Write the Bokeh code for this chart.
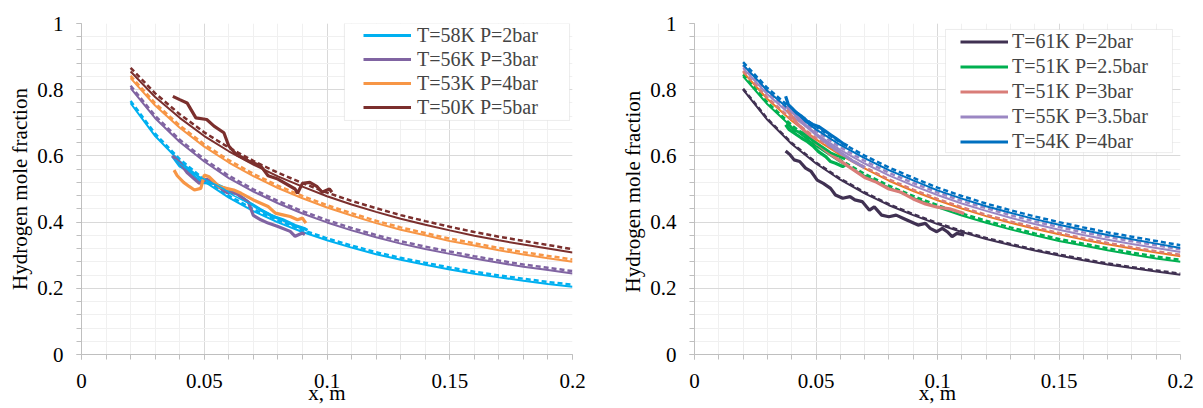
from bokeh.plotting import figure
from bokeh.models import Legend, LegendItem, FixedTicker, Range1d, BoxAnnotation
from bokeh.layouts import row
from bokeh.embed import file_html
from bokeh.resources import INLINE

# ---------------- data ----------------
X_TICKS = [0, 0.05, 0.1, 0.15, 0.2]
X_TICK_LABELS = ["0", "0.05", "0.1", "0.15", "0.2"]
Y_TICKS = [0, 0.2, 0.4, 0.6, 0.8, 1.0]
Y_TICK_LABELS = ["0", "0.2", "0.4", "0.6", "0.8", "1"]

X_MODEL = [0.02, 0.03, 0.04, 0.05, 0.06, 0.07, 0.08, 0.09, 0.10, 0.11,
           0.12, 0.13, 0.14, 0.15, 0.16, 0.17, 0.18, 0.19, 0.20]

# Left panel
L_LABELS = ["T=58K P=2bar", "T=56K P=3bar", "T=53K P=4bar", "T=50K P=5bar"]
L_SOLID = [
    [0.759, 0.660, 0.584, 0.523, 0.474, 0.433, 0.399, 0.370, 0.345, 0.323, 0.303, 0.286, 0.271, 0.257, 0.244, 0.233, 0.223, 0.213, 0.205],
    [0.805, 0.714, 0.642, 0.583, 0.533, 0.492, 0.457, 0.426, 0.399, 0.375, 0.354, 0.335, 0.319, 0.304, 0.290, 0.277, 0.265, 0.255, 0.245],
    [0.835, 0.752, 0.685, 0.628, 0.580, 0.539, 0.503, 0.472, 0.444, 0.420, 0.397, 0.377, 0.360, 0.343, 0.329, 0.315, 0.302, 0.291, 0.280],
    [0.855, 0.778, 0.715, 0.660, 0.614, 0.574, 0.538, 0.507, 0.478, 0.453, 0.431, 0.410, 0.392, 0.375, 0.359, 0.345, 0.332, 0.320, 0.308],
]
L_DASH = [
    [0.766, 0.667, 0.590, 0.529, 0.480, 0.439, 0.405, 0.376, 0.351, 0.329, 0.309, 0.292, 0.277, 0.263, 0.250, 0.239, 0.229, 0.219, 0.211],
    [0.812, 0.721, 0.649, 0.590, 0.540, 0.499, 0.464, 0.433, 0.406, 0.382, 0.361, 0.342, 0.326, 0.311, 0.297, 0.284, 0.272, 0.262, 0.252],
    [0.842, 0.759, 0.692, 0.635, 0.587, 0.546, 0.510, 0.479, 0.451, 0.427, 0.404, 0.384, 0.367, 0.350, 0.336, 0.322, 0.309, 0.298, 0.287],
    [0.866, 0.789, 0.726, 0.671, 0.625, 0.585, 0.549, 0.518, 0.489, 0.464, 0.442, 0.421, 0.403, 0.386, 0.370, 0.356, 0.343, 0.331, 0.318],
]
L_EXP_X = [
    [0.037, 0.040, 0.043, 0.046, 0.049, 0.054, 0.059, 0.063, 0.068, 0.073, 0.077, 0.082, 0.087, 0.091, 0.092],
    [0.037, 0.040, 0.043, 0.046, 0.048, 0.051, 0.054, 0.059, 0.063, 0.068, 0.070, 0.073, 0.076, 0.080, 0.085, 0.087, 0.090, 0.091],
    [0.0377, 0.039, 0.0416, 0.044, 0.046, 0.0486, 0.050, 0.052, 0.054, 0.056, 0.059, 0.062, 0.065, 0.070, 0.073, 0.076, 0.079, 0.082, 0.085, 0.088, 0.090, 0.0914],
    [0.0372, 0.040, 0.043, 0.0466, 0.051, 0.054, 0.058, 0.060, 0.063, 0.068, 0.073, 0.076, 0.080, 0.087, 0.088, 0.090, 0.093, 0.096, 0.098, 0.101, 0.102],
]
L_EXP_Y = [
    [0.60, 0.57, 0.557, 0.537, 0.52, 0.517, 0.50, 0.487, 0.46, 0.437, 0.42, 0.407, 0.39, 0.38, 0.375],
    [0.60, 0.58, 0.55, 0.53, 0.517, 0.53, 0.517, 0.49, 0.487, 0.46, 0.42, 0.407, 0.397, 0.387, 0.372, 0.357, 0.367, 0.362],
    [0.557, 0.54, 0.52, 0.507, 0.497, 0.502, 0.542, 0.537, 0.522, 0.507, 0.502, 0.497, 0.487, 0.467, 0.457, 0.447, 0.427, 0.422, 0.417, 0.407, 0.412, 0.397],
    [0.78, 0.77, 0.76, 0.715, 0.71, 0.69, 0.67, 0.63, 0.605, 0.585, 0.57, 0.54, 0.53, 0.50, 0.487, 0.517, 0.52, 0.507, 0.49, 0.50, 0.49],
]
L_EXP2_X = [0.038, 0.042, 0.046, 0.050, 0.054, 0.058, 0.062, 0.066, 0.070, 0.074, 0.078, 0.082, 0.086, 0.090]
L_EXP2_Y = [0.59, 0.565, 0.545, 0.53, 0.515, 0.50, 0.48, 0.465, 0.45, 0.435, 0.42, 0.405, 0.39, 0.38]

# Right panel
R_LABELS = ["T=61K P=2bar", "T=51K P=2.5bar", "T=51K P=3bar", "T=55K P=3.5bar", "T=54K P=4bar"]
R_SOLID = [
    [0.800, 0.709, 0.636, 0.577, 0.528, 0.487, 0.451, 0.421, 0.394, 0.370, 0.349, 0.331, 0.314, 0.299, 0.285, 0.272, 0.261, 0.251, 0.241],
    [0.840, 0.756, 0.687, 0.630, 0.582, 0.540, 0.504, 0.473, 0.445, 0.420, 0.398, 0.378, 0.360, 0.343, 0.329, 0.315, 0.302, 0.290, 0.280],
    [0.853, 0.772, 0.706, 0.650, 0.603, 0.562, 0.525, 0.494, 0.466, 0.441, 0.418, 0.398, 0.380, 0.363, 0.347, 0.333, 0.320, 0.308, 0.297],
    [0.865, 0.786, 0.721, 0.667, 0.618, 0.577, 0.541, 0.510, 0.482, 0.456, 0.434, 0.413, 0.394, 0.377, 0.361, 0.347, 0.334, 0.322, 0.310],
    [0.875, 0.797, 0.734, 0.680, 0.633, 0.593, 0.557, 0.526, 0.496, 0.471, 0.448, 0.428, 0.409, 0.392, 0.376, 0.361, 0.348, 0.335, 0.322],
]
R_DASH = [
    [0.803, 0.712, 0.639, 0.580, 0.531, 0.490, 0.454, 0.424, 0.397, 0.373, 0.352, 0.334, 0.317, 0.302, 0.288, 0.275, 0.264, 0.254, 0.244],
    [0.846, 0.762, 0.693, 0.636, 0.588, 0.546, 0.510, 0.479, 0.451, 0.426, 0.404, 0.384, 0.366, 0.349, 0.335, 0.321, 0.308, 0.296, 0.286],
    [0.857, 0.776, 0.710, 0.654, 0.607, 0.566, 0.529, 0.498, 0.470, 0.445, 0.422, 0.402, 0.384, 0.367, 0.351, 0.337, 0.324, 0.312, 0.301],
    [0.873, 0.794, 0.729, 0.675, 0.626, 0.585, 0.549, 0.518, 0.490, 0.464, 0.442, 0.421, 0.402, 0.385, 0.369, 0.355, 0.342, 0.330, 0.318],
    [0.883, 0.805, 0.742, 0.688, 0.641, 0.601, 0.565, 0.534, 0.504, 0.479, 0.456, 0.436, 0.417, 0.400, 0.384, 0.369, 0.356, 0.343, 0.330],
]
R_EXP_X = [
    [0.0375, 0.0394, 0.041, 0.0433, 0.0457, 0.048, 0.0505, 0.053, 0.056, 0.058, 0.061, 0.064, 0.066, 0.069, 0.072, 0.074, 0.077, 0.080, 0.083, 0.086, 0.089, 0.092, 0.095, 0.097, 0.0997, 0.102, 0.104, 0.106, 0.108, 0.111],
    [0.0375, 0.039, 0.042, 0.044, 0.0465, 0.049, 0.051, 0.054, 0.056, 0.058, 0.061, 0.062],
    [0.038, 0.042, 0.046, 0.050, 0.055, 0.060, 0.065, 0.070, 0.075, 0.080, 0.085, 0.090, 0.095, 0.100, 0.105, 0.111],
    [0.038, 0.042, 0.046, 0.050, 0.055, 0.060, 0.065, 0.070],
    [0.0375, 0.0386, 0.040, 0.042, 0.044, 0.0465, 0.049, 0.051, 0.054, 0.056, 0.058, 0.061, 0.063],
]
R_EXP_Y = [
    [0.615, 0.603, 0.588, 0.583, 0.563, 0.553, 0.527, 0.517, 0.502, 0.482, 0.472, 0.477, 0.467, 0.462, 0.436, 0.446, 0.421, 0.416, 0.421, 0.411, 0.401, 0.391, 0.396, 0.381, 0.371, 0.381, 0.371, 0.356, 0.366, 0.361],
    [0.694, 0.679, 0.664, 0.654, 0.643, 0.628, 0.613, 0.598, 0.583, 0.578, 0.568, 0.572],
    [0.74, 0.70, 0.67, 0.64, 0.61, 0.585, 0.56, 0.535, 0.52, 0.50, 0.49, 0.47, 0.455, 0.445, 0.44, 0.426],
    [0.75, 0.72, 0.69, 0.665, 0.635, 0.61, 0.585, 0.565],
    [0.78, 0.755, 0.745, 0.73, 0.72, 0.704, 0.694, 0.689, 0.674, 0.664, 0.654, 0.638, 0.63],
]
R_EXP2_X = [0.038, 0.041, 0.044, 0.047, 0.050, 0.053, 0.056, 0.059, 0.062]
R_EXP2_Y = [0.70, 0.675, 0.672, 0.655, 0.64, 0.625, 0.61, 0.60, 0.59]

# ---------------- styling ----------------
FONT = "Liberation Serif"
L_COLORS = ["#00b0f0", "#8064a2", "#f79646", "#7b2f2d"]
R_COLORS = ["#403152", "#00b050", "#d97d78", "#9b87c3", "#0070c0"]
R_SOLID_COLORS = ["#403152", "#00b050", "#ee7a22", "#9b87c3", "#0070c0"]


def make_fig(width, height, bl, br, bt, bb, ylabel, ylab_standoff):
    p = figure(width=width, height=height, x_range=Range1d(0, 0.2), y_range=Range1d(0, 1),
               output_backend="svg", toolbar_location=None, title=None,
               min_border_left=bl, min_border_right=br, min_border_top=bt, min_border_bottom=bb)
    p.outline_line_color = None
    p.xaxis.ticker = FixedTicker(ticks=X_TICKS, minor_ticks=[i * 0.01 for i in range(21)])
    p.yaxis.ticker = FixedTicker(ticks=Y_TICKS, minor_ticks=[i * 0.04 for i in range(26)])
    p.xaxis.major_label_overrides = dict(zip(X_TICKS, X_TICK_LABELS))
    p.yaxis.major_label_overrides = dict(zip(Y_TICKS, Y_TICK_LABELS))
    for ax in (p.xaxis, p.yaxis):
        ax.axis_line_color = "#bfbfbf"
        ax.major_tick_line_color = "#bfbfbf"
        ax.minor_tick_line_color = "#bfbfbf"
        ax.major_tick_in = 0
        ax.major_tick_out = 5
        ax.minor_tick_in = 0
        ax.minor_tick_out = 5
        ax.major_label_text_font = FONT
        ax.major_label_text_font_size = "21px"
        ax.major_label_text_color = "black"
        ax.axis_label_text_font = FONT
        ax.axis_label_text_font_size = "21px"
        ax.axis_label_text_font_style = "normal"
        ax.axis_label_text_color = "black"
    p.yaxis.major_label_standoff = 13
    p.xaxis.major_label_standoff = 14
    p.xaxis.axis_label = "x, m"
    p.xaxis.axis_label_standoff = -10
    p.yaxis.axis_label = ylabel
    p.yaxis.axis_label_standoff = ylab_standoff
    for g in (p.xgrid, p.ygrid):
        g.grid_line_color = "#d9d9d9"
        g.minor_grid_line_color = "#f0f0f0"
    return p


def draw(p, solids, dashes, exps_x, exps_y, colors, solid_colors):
    exp_rs = []
    for s, d, c, sc in zip(solids, dashes, colors, solid_colors):
        p.line(X_MODEL, s, line_color=sc, line_width=2)
        p.line(X_MODEL, d, line_color=c, line_width=2.5, line_dash="5 3")
    for ex, ey, c in zip(exps_x, exps_y, colors):
        exp_rs.append(p.line(ex, ey, line_color=c, line_width=3.2))
    return exp_rs


# Left figure
pl = make_fig(600, 408, 81, 28, 23, 54, "Hydrogen mole fraction", 2)
l_rs = draw(pl, L_SOLID, L_DASH, L_EXP_X, L_EXP_Y, L_COLORS, L_COLORS)
pl.line(L_EXP2_X, L_EXP2_Y, line_color=L_COLORS[0], line_width=1.5)
pl.add_layout(BoxAnnotation(left=0.1071, right=0.1988, top=1.0, bottom=0.707,
                            fill_color="white", fill_alpha=1, line_color="#bfbfbf", line_width=1))
leg_l = Legend(items=[LegendItem(label=lab, renderers=[r]) for lab, r in zip(L_LABELS, l_rs)],
               location=(282, 235), padding=0, spacing=0, margin=0, label_height=24, glyph_height=24,
               glyph_width=48, label_standoff=6, border_line_color=None, background_fill_alpha=0,
               label_text_font=FONT, label_text_font_size="20px")
pl.add_layout(leg_l)

# Right figure
pr = make_fig(600, 408, 94, 20, 23, 54, "Hydrogen  mole fraction", 2)
r_rs = draw(pr, R_SOLID, R_DASH, R_EXP_X, R_EXP_Y, R_COLORS, R_SOLID_COLORS)
pr.line(R_EXP2_X, R_EXP2_Y, line_color=R_COLORS[1], line_width=2.5)
pr.add_layout(BoxAnnotation(left=0.1033, right=0.1967, top=0.982, bottom=0.610,
                            fill_color="white", fill_alpha=1, line_color="#bfbfbf", line_width=1))
leg_r = Legend(items=[LegendItem(label=lab, renderers=[r]) for lab, r in zip(R_LABELS, r_rs)],
               location=(266, 200), padding=0, spacing=0, margin=0, label_height=25, glyph_height=25,
               glyph_width=48, label_standoff=4, border_line_color=None, background_fill_alpha=0,
               label_text_font=FONT, label_text_font_size="20px")
pr.add_layout(leg_r)

layout = row(pl, pr)
open("out.html", "w").write(file_html(layout, INLINE))
